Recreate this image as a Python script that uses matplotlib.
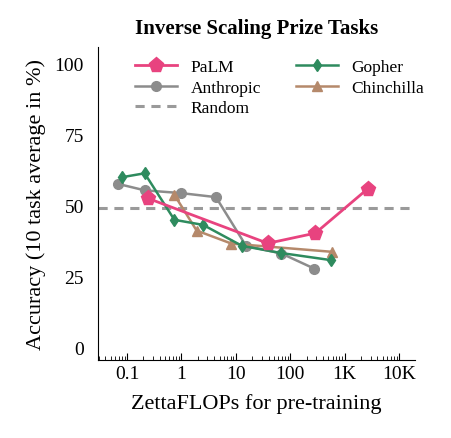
import matplotlib
matplotlib.use("Agg")
import matplotlib.pyplot as plt
from matplotlib.ticker import FixedLocator, LogLocator, NullFormatter

plt.rcParams['font.family'] = ['Liberation Serif', 'DejaVu Serif']

palm_x = [0.24, 38.6, 290, 2640]
palm_y = [52.6, 36.7, 40.3, 55.9]
anth_x = [0.067, 0.21, 1.0, 4.3, 15.4, 69, 275]
anth_y = [57.7, 55.4, 54.4, 53.0, 35.8, 33.1, 27.8]
goph_x = [0.079, 0.21, 0.74, 2.5, 13, 67, 550]
goph_y = [60.0, 61.4, 45.0, 43.2, 35.8, 33.3, 30.8]
chin_x = [0.74, 1.9, 8.3, 590]
chin_y = [53.8, 41.2, 36.6, 33.7]
random_y = 49
xticks = [0.1, 1, 10, 100, 1000, 10000]
xticklabels = ['0.1', '1', '10', '100', '1K', '10K']
yticks = [0, 25, 50, 75, 100]

fig = plt.figure(figsize=(4.51, 4.39), dpi=100)
ax = fig.add_axes([0.217, 0.178, 0.703, 0.713])
ax.plot(palm_x, palm_y, color='#e8437f', marker='p', markersize=11, lw=2, label='PaLM', zorder=5)
ax.plot(goph_x, goph_y, color='#2e8b5e', marker='d', markersize=6, lw=1.8, label='Gopher', zorder=4)
ax.plot(anth_x, anth_y, color='#8c8c8c', marker='o', markersize=7, lw=1.8, label='Anthropic', zorder=3)
ax.plot(chin_x, chin_y, color='#b5896b', marker='^', markersize=7, lw=1.8, label='Chinchilla', zorder=3)
ax.axhline(random_y, color='#9a9a9a', ls='--', lw=2.2, dashes=(3, 2.2), label='Random', zorder=1)

ax.set_xscale('log')
ax.set_xlim(0.029, 19600)
ax.set_ylim(-4.4, 106)
ax.xaxis.set_major_locator(FixedLocator(xticks))
ax.set_xticklabels(xticklabels)
ax.xaxis.set_minor_locator(LogLocator(base=10, subs=range(2, 10), numticks=20))
ax.xaxis.set_minor_formatter(NullFormatter())
ax.set_yticks(yticks)
ax.tick_params(axis='x', which='major', direction='in', length=5, labelsize=14)
ax.tick_params(axis='x', which='minor', direction='in', length=3)
ax.tick_params(axis='y', direction='in', length=0, labelsize=14, pad=10)
for s in ['top', 'right']:
    ax.spines[s].set_visible(False)
ax.set_title('Inverse Scaling Prize Tasks', fontsize=15, fontweight='bold', pad=10)
ax.set_xlabel('ZettaFLOPs for pre-training', fontsize=16, labelpad=8)
ax.set_ylabel('Accuracy (10 task average in %)', fontsize=16, labelpad=6)

h, l = ax.get_legend_handles_labels()
order = [0, 2, 4, 1, 3]
ax.legend([h[i] for i in order], [l[i] for i in order], ncol=2, loc='upper left',
          frameon=False, fontsize=12.5, handlelength=2.4, columnspacing=2.0,
          borderaxespad=0.3, labelspacing=0.25, bbox_to_anchor=(0.08, 1.0))
fig.savefig('out.png', dpi=100)
